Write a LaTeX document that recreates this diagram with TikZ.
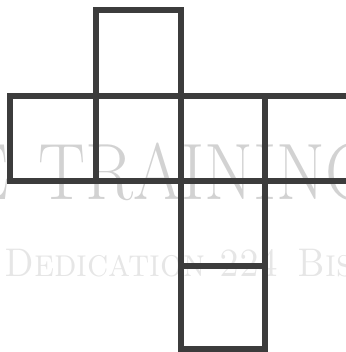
\documentclass[tikz,border=0pt]{standalone}
\usepackage{fontspec}
\definecolor{netline}{HTML}{3C3C3C}
\definecolor{wmark}{HTML}{D2D2D2}
\definecolor{wmarklight}{HTML}{E6E6E6}
\tikzset{
  netstyle/.style={draw=netline, line width=6pt, line join=miter},
  bigmark/.style={text=wmark, inner sep=0pt, font=\fontsize{80}{80}\selectfont},
  smallmark/.style={text=wmarklight, inner sep=0pt, font=\fontsize{40}{40}\selectfont\scshape}
}
\begin{document}
\begin{tikzpicture}[x=1pt,y=1pt]
\useasboundingbox (0,0) rectangle (345,352);
% watermark
\node[bigmark, anchor=base east, xscale=0.83] (wmE) at (9,152) {E};
\node[bigmark, anchor=base west, xscale=0.88] (wmT) at (38,152) {TRAINING};
\node[smallmark, anchor=base west, xscale=0.9] (wmD) at (4,75) {Dedication 224\hspace{6pt} Bishop};
% cube net
\draw[netstyle] (96,256) rectangle (181,342);
\draw[netstyle] (10,171) rectangle (96,256);
\draw[netstyle] (96,171) rectangle (181,256);
\draw[netstyle] (181,171) rectangle (265,256);
\draw[netstyle] (265,171) rectangle (360,256);
\draw[netstyle] (181,86) rectangle (265,171);
\draw[netstyle] (181,3) rectangle (265,86);
\end{tikzpicture}
\end{document}
